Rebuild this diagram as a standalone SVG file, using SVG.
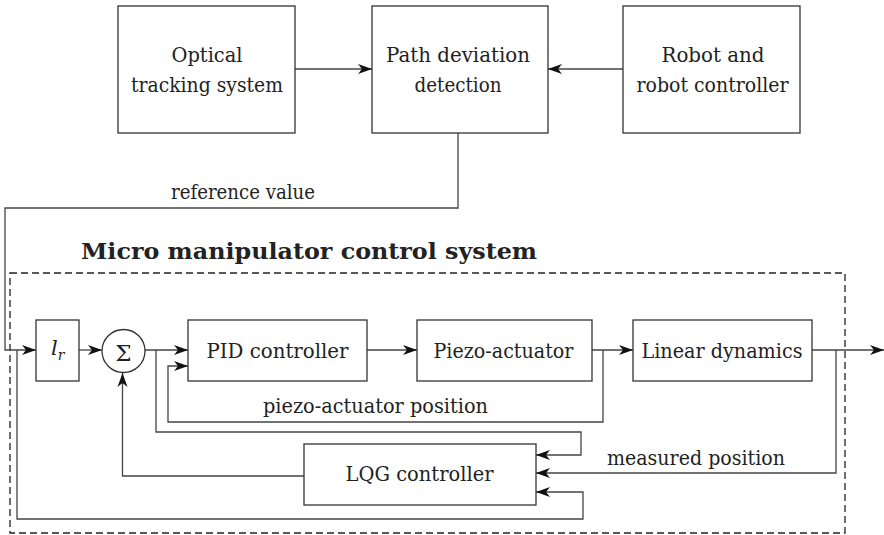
<svg xmlns="http://www.w3.org/2000/svg" width="884" height="535" viewBox="0 0 884 535">
<style>
.box{fill:#fff;stroke:#333;stroke-width:1.3}
.ln{fill:none;stroke:#444;stroke-width:1.3}
.arr{marker-end:url(#ah)}
.t{font-family:"DejaVu Serif","Noto Serif","Liberation Serif",serif;font-size:20px;fill:#222;text-anchor:middle}
.title{font-family:"DejaVu Serif","Noto Serif","Liberation Serif",serif;font-size:23px;font-weight:bold;fill:#222}
</style>
<defs>
<marker id="ah" viewBox="-15 -6 16 12" markerWidth="16" markerHeight="12" refX="0" refY="0" orient="auto" markerUnits="userSpaceOnUse">
<path d="M0,0 L-14,-5 L-10,0 L-14,5 Z" fill="#111"/>
</marker>
</defs>
<rect width="884" height="535" fill="#fff"/>

<g id="system-frame">
<rect x="10" y="273" width="835" height="260" fill="none" stroke="#222" stroke-width="1.3" stroke-dasharray="7,4"/>
<text class="title" x="81" y="259" textLength="456" lengthAdjust="spacingAndGlyphs">Micro manipulator control system</text>
</g>

<g id="connectors">
<path class="ln arr" d="M295,69 H372"/>
<path class="ln arr" d="M623,69 H548"/>
<path class="ln arr" d="M458,133 V208 H5 V350 H36"/>
<path class="ln arr" d="M79,350 H102"/>
<path class="ln arr" d="M145,350 H188"/>
<path class="ln arr" d="M367,350 H417"/>
<path class="ln arr" d="M592,350 H633"/>
<path class="ln arr" d="M812,350 H884"/>
<path class="ln arr" d="M603,350 V422 H168 V366 H188"/>
<path class="ln arr" d="M156,350 V432 H581 V455 H536"/>
<path class="ln arr" d="M836,350 V473 H536"/>
<path class="ln arr" d="M17,350 V519 H583 V492 H536"/>
<path class="ln arr" d="M304,476 H122.5 V373"/>
<text class="t" x="243" y="199" textLength="144" lengthAdjust="spacingAndGlyphs">reference value</text>
<text class="t" x="375.5" y="413" textLength="225" lengthAdjust="spacingAndGlyphs">piezo-actuator position</text>
<text class="t" x="696" y="465" textLength="178" lengthAdjust="spacingAndGlyphs">measured position</text>
</g>

<g id="optical">
<rect class="box" x="118" y="6" width="177" height="127"/>
<text class="t" x="207" y="62" textLength="71" lengthAdjust="spacingAndGlyphs">Optical</text>
<text class="t" x="207" y="92" textLength="152" lengthAdjust="spacingAndGlyphs">tracking system</text>
</g>

<g id="path-deviation">
<rect class="box" x="372" y="6" width="176" height="127"/>
<text class="t" x="458" y="62" textLength="144" lengthAdjust="spacingAndGlyphs">Path deviation</text>
<text class="t" x="458" y="92" textLength="87" lengthAdjust="spacingAndGlyphs">detection</text>
</g>

<g id="robot">
<rect class="box" x="623" y="6" width="177" height="127"/>
<text class="t" x="713" y="62" textLength="103" lengthAdjust="spacingAndGlyphs">Robot and</text>
<text class="t" x="712.5" y="92" textLength="152" lengthAdjust="spacingAndGlyphs">robot controller</text>
</g>

<g id="lr">
<rect class="box" x="36" y="320" width="43" height="61"/>
<text x="51" y="355" font-family="DejaVu Serif,Noto Serif,Liberation Serif,serif" font-style="italic" font-size="21" fill="#222">l<tspan font-size="14" dy="5">r</tspan></text>
</g>

<g id="sum">
<circle cx="123.5" cy="351" r="21.5" fill="#fff" stroke="#333" stroke-width="1.3"/>
<text class="t" x="123.5" y="361" style="font-size:23px">Σ</text>
</g>

<g id="pid">
<rect class="box" x="188" y="320" width="179" height="61"/>
<text class="t" x="277.5" y="358" textLength="142" lengthAdjust="spacingAndGlyphs">PID controller</text>
</g>

<g id="piezo">
<rect class="box" x="417" y="320" width="175" height="61"/>
<text class="t" x="503.5" y="358" textLength="140" lengthAdjust="spacingAndGlyphs">Piezo-actuator</text>
</g>

<g id="linear">
<rect class="box" x="633" y="320" width="179" height="61"/>
<text class="t" x="722" y="358" textLength="161" lengthAdjust="spacingAndGlyphs">Linear dynamics</text>
</g>

<g id="lqg">
<rect class="box" x="304" y="444" width="232" height="61"/>
<text class="t" x="419.5" y="481" textLength="148" lengthAdjust="spacingAndGlyphs">LQG controller</text>
</g>
</svg>
